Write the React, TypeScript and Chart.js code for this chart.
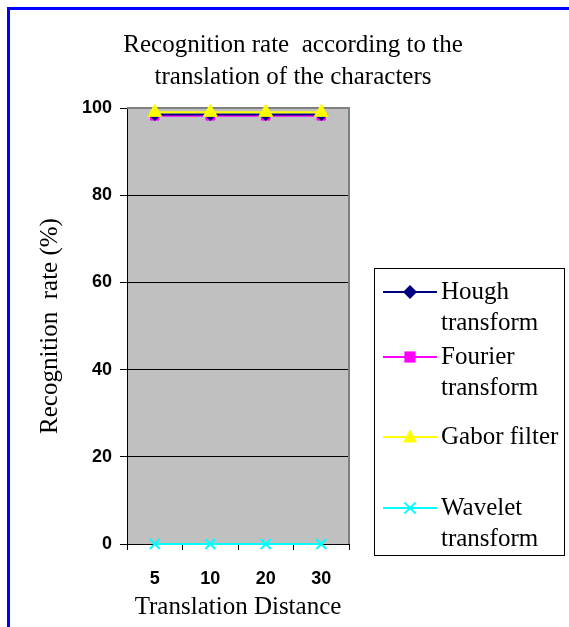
import React, { useEffect, useRef } from "react";
import { Chart, registerables } from "chart.js";

Chart.register(...registerables);

const categories = ["5", "10", "20", "30"];
const houghValues = [98.5, 98.5, 98.5, 98.5];
const fourierValues = [98.2, 98.2, 98.2, 98.2];
const gaborValues = [99, 99, 99, 99];
const waveletValues = [0, 0, 0, 0];
const yTickValues = [0, 20, 40, 60, 80, 100];
const seriesLabels = [["Hough", "transform"], ["Fourier", "transform"], ["Gabor filter"], ["Wavelet", "transform"]];
const titleLines = ["Recognition rate  according to the", "translation of the characters"];
const xTitle = "Translation Distance";
const yTitle = "Recognition  rate (%)";

const SERIF = "'Liberation Serif', 'Times New Roman', serif";
const SANS = "'Liberation Sans', Arial, sans-serif";

const legendRowY = [292, 357, 437, 508];

function drawMarker(ctx: CanvasRenderingContext2D, style: string, x: number, y: number, r: number, color: string) {
  ctx.save();
  ctx.fillStyle = color;
  ctx.strokeStyle = color;
  ctx.lineWidth = 2;
  ctx.beginPath();
  if (style === "rectRot") {
    ctx.moveTo(x, y - r); ctx.lineTo(x + r, y); ctx.lineTo(x, y + r); ctx.lineTo(x - r, y); ctx.closePath(); ctx.fill();
  } else if (style === "rect") {
    const s = r * 0.8;
    ctx.rect(x - s, y - s, 2 * s, 2 * s); ctx.fill();
  } else if (style === "triangle") {
    const h = r * 1.1;
    ctx.moveTo(x, y - h); ctx.lineTo(x + r, y + h * 0.7); ctx.lineTo(x - r, y + h * 0.7); ctx.closePath(); ctx.fill();
  } else {
    const s = r * 0.8;
    ctx.moveTo(x - s, y - s); ctx.lineTo(x + s, y + s); ctx.moveTo(x + s, y - s); ctx.lineTo(x - s, y + s); ctx.stroke();
  }
  ctx.restore();
}

const decorPlugin = {
  id: "decor",
  beforeDraw(chart: any) {
    const { ctx, chartArea } = chart;
    ctx.save();
    ctx.fillStyle = "#C0C0C0";
    ctx.fillRect(chartArea.left, chartArea.top, chartArea.right - chartArea.left, chartArea.bottom - chartArea.top);
    ctx.restore();
  },
  beforeDatasetsDraw(chart: any) {
    const { ctx, chartArea } = chart;
    ctx.save();
    ctx.strokeStyle = "#808080";
    ctx.lineWidth = 2;
    ctx.beginPath();
    ctx.moveTo(chartArea.left, chartArea.top);
    ctx.lineTo(chartArea.right, chartArea.top);
    ctx.lineTo(chartArea.right, chartArea.bottom);
    ctx.stroke();
    ctx.restore();
  },
  afterDraw(chart: any) {
    const { ctx } = chart;
    ctx.save();
    ctx.fillStyle = "#000";
    ctx.font = `25px ${SERIF}`;
    ctx.textAlign = "center";
    ctx.textBaseline = "middle";
    titleLines.forEach((t, i) => ctx.fillText(t, 293, 45 + i * 32));
    ctx.strokeStyle = "#000";
    ctx.lineWidth = 1;
    ctx.strokeRect(374.5, 268.5, 190, 287);
    ctx.textAlign = "left";
    chart.data.datasets.forEach((ds: any, i: number) => {
      const y = legendRowY[i];
      ctx.strokeStyle = ds.borderColor;
      ctx.lineWidth = 2;
      ctx.beginPath();
      ctx.moveTo(383, y);
      ctx.lineTo(437, y);
      ctx.stroke();
      drawMarker(ctx, ds.pointStyle, 410, y, 7, ds.borderColor);
      ctx.fillStyle = "#000";
      seriesLabels[i].forEach((line, j) => ctx.fillText(line, 441, y + j * 31));
    });
    ctx.restore();
  },
};

export default function App() {
  const ref = useRef<HTMLCanvasElement>(null);
  useEffect(() => {
    if (!ref.current) return;
    const mk = (label: string, data: number[], color: string, style: string, order: number, radius: number) => ({
      label,
      data,
      borderColor: color,
      backgroundColor: color,
      pointBackgroundColor: color,
      pointBorderColor: color,
      pointStyle: style,
      pointRadius: radius,
      pointBorderWidth: style === "crossRot" ? 2 : 1,
      borderWidth: 2,
      clip: false,
      order,
    });
    const chart = new Chart(ref.current, {
      type: "line",
      data: {
        labels: categories,
        datasets: [
          mk(seriesLabels[0].join(" "), houghValues, "#000080", "rectRot", 2, 6),
          mk(seriesLabels[1].join(" "), fourierValues, "#FF00FF", "rect", 3, 6),
          mk(seriesLabels[2].join(" "), gaborValues, "#FFFF00", "triangle", 0, 8),
          mk(seriesLabels[3].join(" "), waveletValues, "#00FFFF", "crossRot", 1, 7),
        ] as any,
      },
      options: {
        animation: false,
        responsive: false,
        layout: { padding: { left: 0, top: 108, right: 220, bottom: 0 } },
        plugins: { legend: { display: false }, tooltip: { enabled: false }, title: { display: false } },
        scales: {
          x: {
            offset: true,
            afterFit: (s: any) => { s.height = 83; },
            grid: { drawOnChartArea: false, offset: true, tickLength: 6, tickColor: "#000", color: "#000" },
            border: { color: "#000", width: 1 },
            ticks: { color: "#000", font: { family: SANS, size: 18, weight: "bold" }, padding: 18 },
            title: { display: true, text: xTitle, color: "#000", font: { family: SERIF, size: 25 }, padding: { bottom: 5, top: 0 } },
          },
          y: {
            min: 0,
            max: 100,
            afterFit: (s: any) => { s.width = 127; },
            afterBuildTicks: (s: any) => { s.ticks = yTickValues.map((v) => ({ value: v })); },
            grid: { color: "#000", tickLength: 7, tickColor: "#000" },
            border: { color: "#000", width: 1 },
            ticks: { color: "#000", font: { family: SANS, size: 18, weight: "bold" }, padding: 8 },
            title: { display: true, text: yTitle, color: "#000", font: { family: SERIF, size: 25 }, padding: { top: 35, bottom: 0 } },
          },
        },
      } as any,
      plugins: [decorPlugin],
    });
    return () => chart.destroy();
  }, []);
  return (
    <div style={{ position: "fixed", left: 0, top: 0, width: 569, height: 627, overflow: "hidden", background: "#fff" }}>
      <div style={{ position: "absolute", left: 7, top: 7, width: 700, height: 700, border: "3px solid #0000FF" }} />
      <canvas ref={ref} width={569} height={627} style={{ position: "absolute", left: 0, top: 0 }} />
    </div>
  );
}
